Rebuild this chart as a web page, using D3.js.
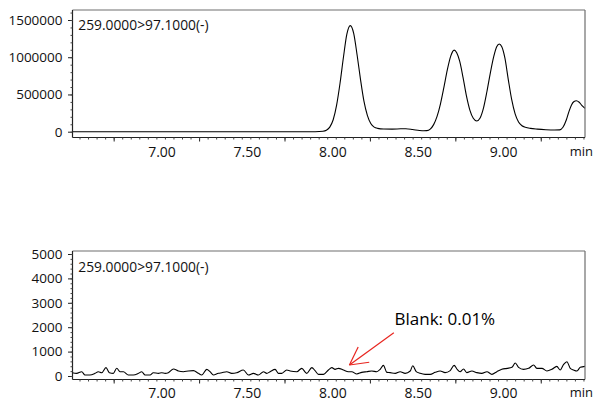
<!DOCTYPE html>
<html><head><meta charset="utf-8">
<script src="https://cdn.jsdelivr.net/npm/d3@7"></script>
<style>html,body{margin:0;padding:0;background:#fff;} svg{display:block;}</style>
</head><body><svg id="c" width="594" height="401"></svg>
<script>
// ---- data ----
const topTime = [6.479, 7.90, 7.945, 7.965, 7.985, 8.005, 8.025, 8.045, 8.065, 8.085, 8.105, 8.125, 8.145, 8.165, 8.185, 8.205, 8.225, 8.245, 8.265, 8.30, 8.35, 8.40, 8.43, 8.47, 8.51, 8.535, 8.553, 8.573, 8.593, 8.613, 8.633, 8.653, 8.673, 8.693, 8.713, 8.728, 8.745, 8.765, 8.785, 8.805, 8.825, 8.845, 8.865, 8.885, 8.905, 8.925, 8.945, 8.962, 8.977, 8.992, 9.01, 9.03, 9.05, 9.07, 9.09, 9.11, 9.13, 9.16, 9.20, 9.25, 9.30, 9.33, 9.35, 9.37, 9.385, 9.40, 9.415, 9.428, 9.445, 9.46, 9.479];
const topSignal = [0, 0, 6000, 20000, 62000, 160000, 356000, 650000, 1000000, 1310000, 1425000, 1320000, 1030000, 700000, 410000, 220000, 110000, 62000, 45000, 36000, 35000, 39000, 40000, 30000, 16000, 12000, 14000, 35000, 95000, 205000, 375000, 595000, 830000, 1015000, 1095000, 1060000, 950000, 730000, 480000, 290000, 180000, 144000, 185000, 320000, 540000, 790000, 1010000, 1140000, 1178000, 1140000, 990000, 700000, 430000, 240000, 130000, 80000, 60000, 45000, 35000, 27000, 23000, 25000, 60000, 160000, 270000, 360000, 405000, 415000, 395000, 355000, 314000];

const blankTime = [6.478, 6.503, 6.533, 6.552, 6.581, 6.611, 6.630, 6.650, 6.675, 6.695, 6.718, 6.738, 6.757, 6.777, 6.806, 6.835, 6.865, 6.884, 6.904, 6.933, 6.952, 6.982, 7.001, 7.021, 7.040, 7.070, 7.099, 7.128, 7.157, 7.187, 7.216, 7.235, 7.265, 7.284, 7.304, 7.333, 7.353, 7.382, 7.411, 7.440, 7.479, 7.509, 7.538, 7.567, 7.597, 7.616, 7.636, 7.665, 7.684, 7.704, 7.733, 7.753, 7.792, 7.821, 7.850, 7.880, 7.899, 7.919, 7.948, 7.977, 7.997, 8.016, 8.036, 8.065, 8.094, 8.114, 8.143, 8.172, 8.202, 8.231, 8.260, 8.280, 8.299, 8.319, 8.338, 8.368, 8.397, 8.426, 8.456, 8.471, 8.491, 8.514, 8.543, 8.573, 8.602, 8.631, 8.660, 8.690, 8.713, 8.729, 8.748, 8.768, 8.787, 8.817, 8.846, 8.875, 8.905, 8.934, 8.963, 8.992, 9.022, 9.051, 9.071, 9.090, 9.119, 9.149, 9.178, 9.197, 9.227, 9.256, 9.285, 9.314, 9.334, 9.353, 9.373, 9.393, 9.412, 9.432, 9.451, 9.479];
const blankSignal = [135, 109, 177, 41, 41, 109, 177, 135, 342, 135, 109, 315, 177, 177, 41, 41, 109, 177, 41, 41, 135, 109, 135, 109, 135, 287, 205, 177, 205, 219, 109, 41, 273, 177, 41, 109, 135, 177, 109, 135, 246, 41, 109, 41, 177, 109, 177, 273, 109, 109, 246, 205, 177, 314, 109, 342, 219, 68, 68, 246, 342, 273, 314, 246, 177, 177, 82, 150, 177, 205, 177, 273, 437, 150, 137, 109, 177, 109, 205, 423, 177, 109, 68, 68, 150, 205, 137, 219, 437, 287, 177, 287, 137, 205, 137, 109, 177, 68, 177, 273, 314, 355, 533, 355, 273, 314, 451, 314, 314, 205, 273, 396, 246, 465, 587, 314, 246, 205, 355, 396];

const xLabelValues = [7.0, 7.5, 8.0, 8.5, 9.0];
const xMajorTicks = [6.72, 7.22, 7.72, 8.22, 8.72, 9.22];
const topYTicks = [0, 500000, 1000000, 1500000];
const blankYTicks = [0, 1000, 2000, 3000, 4000, 5000];
const traceLabel = "259.0000>97.1000(-)";
const annotationText = "Blank: 0.01%";
const arrowTip = [8.10, 450];
const arrowTail = [8.36, 1775];
const annotationPos = [8.364, 2090];

// ---- layout ----
const svg = d3.select("#c");
const FONT = "'Open Sans', 'Noto Sans', sans-serif";
const L = 72.5, R = 585;
const x = d3.scaleLinear().domain([6.479, 9.479]).range([L, R]);
const minorX = d3.range(0, 60).map(i => +(6.52 + i * 0.05).toFixed(3)).filter(v => v < 9.479);

const panels = [
  { top: 10, axisY: 137.5, y: d3.scaleLinear().domain([0, 1500000]).range([131.7, 20]),
    yTicks: topYTicks, yMinor: d3.range(0, 1600001, 100000), time: topTime, sig: topSignal, labelPad: 9.5,
    traceY: 30 },
  { top: 251, axisY: 379.5, y: d3.scaleLinear().domain([0, 5000]).range([376, 254]),
    yTicks: blankYTicks, yMinor: d3.range(0, 5001, 200), time: blankTime, sig: blankSignal, labelPad: 8.5,
    traceY: 271.5 }
];

panels.forEach((p, pi) => {
  const g = svg.append("g");
  // data line
  const pts = p.time.map((t, i) => [t, p.sig[i]]);
  g.append("path").datum(pts)
    .attr("fill", "none").attr("stroke", "#000").attr("stroke-width", 1.1)
    .attr("d", d3.line().x(d => x(d[0])).y(d => p.y(d[1])).curve(d3.curveMonotoneX));

  // frame: top and right gray
  g.append("line").attr("x1", L).attr("x2", R).attr("y1", p.top).attr("y2", p.top).attr("stroke", "#6e6e6e").attr("stroke-width", 1.2);
  g.append("line").attr("x1", R).attr("x2", R).attr("y1", p.top).attr("y2", p.axisY).attr("stroke", "#6e6e6e").attr("stroke-width", 1.2);
  // left and bottom axis lines
  g.append("line").attr("x1", L).attr("x2", L).attr("y1", p.top).attr("y2", p.axisY).attr("stroke", "#222").attr("stroke-width", 1.2);
  g.append("line").attr("x1", L).attr("x2", R).attr("y1", p.axisY).attr("y2", p.axisY).attr("stroke", "#222").attr("stroke-width", 1.2);

  // y axis major
  const ya = g.append("g").attr("transform", `translate(${L},0)`)
    .call(d3.axisLeft(p.y).tickValues(p.yTicks).tickSize(4.5).tickPadding(5.5).tickFormat(d3.format("d")));
  ya.select(".domain").remove();
  ya.selectAll("text").attr("font-family", FONT).attr("font-size", 13.5).attr("fill", "#111");
  ya.selectAll("line").attr("stroke", "#222");
  const ym = g.append("g").attr("transform", `translate(${L},0)`)
    .call(d3.axisLeft(p.y).tickValues(p.yMinor).tickSize(2).tickFormat(""));
  ym.select(".domain").remove();
  ym.selectAll("line").attr("stroke", "#444");

  // x axis
  const xa = g.append("g").attr("transform", `translate(0,${p.axisY})`)
    .call(d3.axisBottom(x).tickValues(xMajorTicks).tickSize(4).tickFormat(""));
  xa.select(".domain").remove();
  xa.selectAll("line").attr("stroke", "#222");
  const xm = g.append("g").attr("transform", `translate(0,${p.axisY})`)
    .call(d3.axisBottom(x).tickValues(minorX).tickSize(2).tickFormat(""));
  xm.select(".domain").remove();
  xm.selectAll("line").attr("stroke", "#444");
  const xl = g.append("g").attr("transform", `translate(0,${p.axisY})`)
    .call(d3.axisBottom(x).tickValues(xLabelValues).tickSize(0).tickPadding(p.labelPad).tickFormat(d3.format(".2f")));
  xl.select(".domain").remove();
  xl.selectAll("text").attr("font-family", FONT).attr("font-size", 14).attr("fill", "#111");
  g.append("text").attr("x", 593).attr("y", p.axisY + p.labelPad).attr("dy", "0.71em")
    .attr("text-anchor", "end")
    .attr("font-family", FONT).attr("font-size", 13).attr("fill", "#111").text("min");

  // trace label
  g.append("text").attr("x", 78.3).attr("y", p.traceY)
    .attr("font-family", FONT).attr("font-size", 13.8).attr("fill", "#111").text(traceLabel);

  if (pi === 1) {
    const tx = x(arrowTip[0]), ty = p.y(arrowTip[1]);
    const sx = x(arrowTail[0]), sy = p.y(arrowTail[1]);
    const ang = Math.atan2(sy - ty, sx - tx);
    const wl = 20, wa = 28 * Math.PI / 180;
    const red = "#e8251f";
    g.append("line").attr("x1", sx).attr("y1", sy).attr("x2", tx).attr("y2", ty).attr("stroke", red).attr("stroke-width", 1.2);
    [ang - wa, ang + wa].forEach(a => {
      g.append("line").attr("x1", tx).attr("y1", ty)
        .attr("x2", tx + wl * Math.cos(a)).attr("y2", ty + wl * Math.sin(a))
        .attr("stroke", red).attr("stroke-width", 1.2);
    });
    g.append("text").attr("x", x(annotationPos[0])).attr("y", p.y(annotationPos[1]))
      .attr("font-family", FONT).attr("font-size", 17).attr("font-weight", 500).attr("fill", "#000").text(annotationText);
  }
});
</script>
</body></html>
